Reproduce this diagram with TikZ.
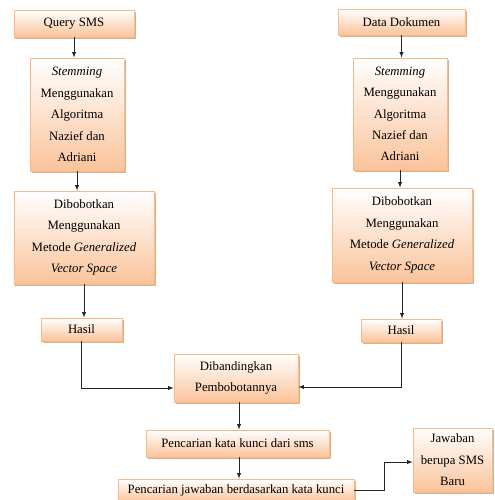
\documentclass[tikz,border=0pt]{standalone}
\usepackage{fontspec}
\setmainfont{Liberation Serif}
\usetikzlibrary{shadows}

\definecolor{boxline}{HTML}{F7BA8A}
\definecolor{boxfill}{HTML}{FAC39A}
\definecolor{boxshade}{HTML}{D9A67E}

\tikzset{
  flowbox/.style={draw=boxline, line width=0.8bp, top color=white, bottom color=boxfill,
    align=center, inner sep=0pt, font=\fontsize{12.8}{21.5}\selectfont,
    drop shadow={shadow xshift=1.5bp, shadow yshift=-2bp, fill=boxshade, opacity=0.9}},
  flowline/.style={line width=0.9bp, black!85, -latex}
}

\begin{document}
\begin{tikzpicture}[x=1bp, y=-1bp]

        \useasboundingbox (0,0) rectangle (495,500);

        %Left column
        \node [flowbox, minimum width=120bp, minimum height=27bp] (query) at (74,23.5) {Query SMS};
        \node [flowbox, minimum width=94bp, minimum height=113bp] (stemL) at (77,114.5)
              {\textit{Stemming}\\Menggunakan\\Algoritma\\Nazief dan\\Adriani};
        \node [flowbox, minimum width=140bp, minimum height=93bp] (bobotL) at (84,237.5)
              {Dibobotkan\\Menggunakan\\Metode \textit{Generalized}\\\textit{Vector Space}};
        \node [flowbox, minimum width=81bp, minimum height=23bp] (hasilL) at (81.5,329.5) {Hasil};

        %Right column
        \node [flowbox, minimum width=127bp, minimum height=26bp] (data) at (401.5,22) {Data Dokumen};
        \node [flowbox, minimum width=94bp, minimum height=112bp] (stemR) at (400,114)
              {\textit{Stemming}\\Menggunakan\\Algoritma\\Nazief dan\\Adriani};
        \node [flowbox, minimum width=140bp, minimum height=94bp] (bobotR) at (402,235)
              {Dibobotkan\\Menggunakan\\Metode \textit{Generalized}\\\textit{Vector Space}};
        \node [flowbox, minimum width=80bp, minimum height=23bp] (hasilR) at (401,330.5) {Hasil};

        %Comparison and search
        \node [flowbox, minimum width=124bp, minimum height=48bp] (banding) at (236,378)
              {Dibandingkan\\Pembobotannya};
        \node [flowbox, minimum width=183bp, minimum height=27bp] (kunci) at (237.5,443.5)
              {Pencarian kata kunci dari sms};
        \node [flowbox, minimum width=236bp, minimum height=23bp] (jawab) at (236,490.5)
              {Pencarian jawaban berdasarkan kata kunci};
        \node [flowbox, minimum width=79bp, minimum height=64bp] (baru) at (452.5,460)
              {Jawaban\\berupa SMS\\Baru};

        %Arrows
        \draw [flowline] (query.south) -- (query.south |- stemL.north);
        \draw [flowline] (stemL.south) -- (stemL.south |- bobotL.north);
        \draw [flowline] (bobotL.south) -- (bobotL.south |- hasilL.north);
        \draw [flowline] (hasilL.south) |- ([yshift=-10bp]banding.west);

        \draw [flowline] (data.south) -- (data.south |- stemR.north);
        \draw [flowline] (stemR.south) -- (stemR.south |- bobotR.north);
        \draw [flowline] (bobotR.south) -- (bobotR.south |- hasilR.north);
        \draw [flowline] (hasilR.south) |- ([yshift=-9bp]banding.east);

        \draw [flowline] ([xshift=3bp]banding.south) -- ([xshift=3bp]banding.south |- kunci.north);
        \draw [flowline] ([xshift=1.5bp]kunci.south) -- ([xshift=1.5bp]kunci.south |- jawab.north);
        \coordinate (bend) at (384,490.5);
        \draw [flowline] (jawab.east) -- (bend) |- ([yshift=-2bp]baru.west);

\end{tikzpicture}
\end{document}
